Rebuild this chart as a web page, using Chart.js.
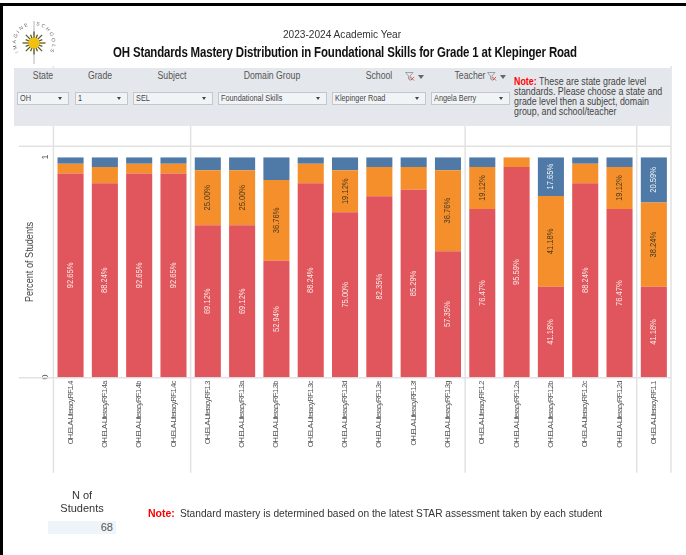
<!DOCTYPE html>
<html><head><meta charset="utf-8">
<style>
html,body{margin:0;padding:0;background:#fff;width:686px;height:555px;overflow:hidden;font-family:"Liberation Sans",Arial,sans-serif;color:#333}
.a{position:absolute;white-space:nowrap}
#cv{position:absolute;left:0;top:0}
.c{transform:translateX(-50%)}
.panel{left:14px;top:68px;width:657px;height:58px;background:#e4e8ec}
.fl{top:70px;font-size:10px;line-height:12px;color:#555;transform:translateX(-50%) scaleX(.87)}
.dd{top:92px;height:11px;line-height:11px;background:#f1f4f7;border:1px solid #c4c8cc;font-size:8.5px;color:#444;padding-left:2px;box-sizing:content-box}
.dd span{display:inline-block;transform:scaleX(.86);transform-origin:left center}
.dd i{position:absolute;right:6px;top:4px;width:0;height:0;border-left:2.5px solid transparent;border-right:2.5px solid transparent;border-top:3px solid #444}
.tri{top:75px;width:0;height:0;border-left:3px solid transparent;border-right:3px solid transparent;border-top:4px solid #666}
</style></head><body>
<canvas id="cv" width="686" height="555"></canvas>
<div class="a" style="left:0;top:3px;width:686px;height:3px;background:#000"></div>
<div class="a" style="left:0;top:3px;width:3px;height:552px;background:#000"></div>

<svg class="a" id="logo" style="left:12px;top:18px" width="46" height="48" viewBox="0 0 46 48">
<defs><path id="arcL" d="M6.4 34 A18 18 0 0 1 20 7.1"/><path id="arcR" d="M24 7.1 A18 18 0 0 1 37.6 34"/></defs>
<line x1="22" y1="3" x2="22" y2="46" stroke="#b5b5b5" stroke-width="1"/>
<g id="rays" stroke="#5e5a20" stroke-width="1.3"></g>
<circle cx="22" cy="25" r="5.6" fill="#f0c20f"/>
<text font-family="Liberation Sans" font-size="5" fill="#666" letter-spacing="1.7"><textPath href="#arcL">IMAGINE</textPath></text>
<text font-family="Liberation Sans" font-size="5" fill="#666" letter-spacing="1.7"><textPath href="#arcR">SCHOOLS</textPath></text>
</svg>

<div class="a" style="left:342px;top:28px;font-size:11px;line-height:13px;color:#333;transform:translateX(-50%) scaleX(.92)">2023-2024 Academic Year</div>
<div class="a" style="left:345px;top:44px;font-size:14.5px;line-height:17px;font-weight:bold;color:#111;letter-spacing:-.2px;transform:translateX(-50%) scaleX(.79)">OH Standards Mastery Distribution in Foundational Skills for Grade 1 at Klepinger Road</div>

<div class="a panel"></div>
<div class="a fl" style="left:42.5px">State</div>
<div class="a fl" style="left:100px">Grade</div>
<div class="a fl" style="left:172px">Subject</div>
<div class="a fl" style="left:272px">Domain Group</div>
<div class="a fl" style="left:379px">School</div>
<div class="a fl" style="left:470px">Teacher</div>
<svg class="a" style="left:405px;top:72px" width="10" height="9" viewBox="0 0 10 9"><path d="M0.5 .5H8L5 4V8L3.5 7V4Z" fill="none" stroke="#8a8f94" stroke-width=".8"/><path d="M5.5 5L9 8.5M9 5L5.5 8.5" stroke="#d9534f" stroke-width="1"/></svg>
<div class="a tri" style="left:418px"></div>
<svg class="a" style="left:487px;top:72px" width="10" height="9" viewBox="0 0 10 9"><path d="M0.5 .5H8L5 4V8L3.5 7V4Z" fill="none" stroke="#8a8f94" stroke-width=".8"/><path d="M5.5 5L9 8.5M9 5L5.5 8.5" stroke="#d9534f" stroke-width="1"/></svg>
<div class="a tri" style="left:500px"></div>

<div class="a dd" style="left:17px;width:48px"><span>OH</span><i></i></div>
<div class="a dd" style="left:75px;width:49px"><span>1</span><i></i></div>
<div class="a dd" style="left:133px;width:76px"><span>SEL</span><i></i></div>
<div class="a dd" style="left:218px;width:105px"><span>Foundational Skills</span><i></i></div>
<div class="a dd" style="left:332px;width:90px"><span>Klepinger Road</span><i></i></div>
<div class="a dd" style="left:431px;width:75px"><span>Angela Berry</span><i></i></div>

<div class="a" style="left:514px;top:77px;font-size:10px;line-height:10.1px;color:#444;transform:scaleX(.886);transform-origin:left top"><span style="color:#f00;font-weight:bold">Note:</span> These are state grade level<br>standards. Please choose a state and<br>grade level then a subject, domain<br>group, and school/teacher</div>

<div class="a" style="left:29px;top:262px;font-size:10.5px;line-height:12px;color:#444;transform:translate(-50%,-50%) rotate(-90deg) scaleX(.87)">Percent of Students</div>

<div class="a c" style="left:82px;top:489px;font-size:11px;line-height:12.5px;text-align:center;color:#333">N of<br>Students</div>
<div class="a" style="left:48px;top:521px;width:68px;height:13px;background:#eef4f9;font-size:11px;line-height:13px;text-align:right;color:#555"><span style="padding-right:3px">68</span></div>

<div class="a" style="left:148px;top:507px;font-size:10.5px;line-height:13px;color:#f00;font-weight:bold">Note:</div>
<div class="a" style="left:180px;top:507px;font-size:10.5px;line-height:13px;color:#333;transform:scaleX(.97);transform-origin:left top">Standard mastery is determined based on the latest STAR assessment taken by each student</div>

<script src="https://cdn.jsdelivr.net/npm/chart.js@4"></script>
<script>
const categories = ["OH.ELA-Literacy.RF.1.4","OH.ELA-Literacy.RF.1.4a","OH.ELA-Literacy.RF.1.4b","OH.ELA-Literacy.RF.1.4c","OH.ELA-Literacy.RF.1.3","OH.ELA-Literacy.RF.1.3a","OH.ELA-Literacy.RF.1.3b","OH.ELA-Literacy.RF.1.3c","OH.ELA-Literacy.RF.1.3d","OH.ELA-Literacy.RF.1.3e","OH.ELA-Literacy.RF.1.3f","OH.ELA-Literacy.RF.1.3g","OH.ELA-Literacy.RF.1.2","OH.ELA-Literacy.RF.1.2a","OH.ELA-Literacy.RF.1.2b","OH.ELA-Literacy.RF.1.2c","OH.ELA-Literacy.RF.1.2d","OH.ELA-Literacy.RF.1.1"];
const redValues    = [92.65,88.24,92.65,92.65,69.12,69.12,52.94,88.24,75.00,82.35,85.29,57.35,76.47,95.59,41.18,88.24,76.47,41.18];
const orangeValues = [4.41,7.35,4.41,4.41,25.00,25.00,36.76,8.82,19.12,13.24,10.29,36.76,19.12,4.41,41.18,8.82,19.12,38.24];
const blueValues   = [2.94,4.41,2.94,2.94,5.88,5.88,10.29,2.94,5.88,4.41,4.41,5.88,4.41,0,17.65,2.94,4.41,20.59];
const yTickLabels = {0:"0",100:"1"};
const groupStarts = [0,4,12,17];
const minLabelled = 15;

// logo rays
(function(){const g=document.getElementById('rays');let s='';
for(let i=0;i<16;i++){const t=i*Math.PI/8,r=i%2?9:11.5;s+=`<line x1="22" y1="25" x2="${22+r*Math.cos(t)}" y2="${25+r*Math.sin(t)}"/>`;}
g.innerHTML=s;})();

const SANS = '"Liberation Sans",Arial,sans-serif';
const sepPlugin = {
  id:'sep',
  beforeDraw(c){ c.ctx.letterSpacing='-0.75px'; },
  beforeDatasetsDraw(c){
    const x=c.scales.x, y=c.scales.y, ctx=c.ctx;
    const step=x.getPixelForValue(1)-x.getPixelForValue(0);
    ctx.save();ctx.strokeStyle='#e2e2e2';ctx.lineWidth=1.5;
    const xs=groupStarts.map(i=>x.getPixelForValue(i)-step/2).concat(x.right);
    xs.forEach((p,i)=>{const top=(i===0||i===xs.length-1)?66:126;ctx.beginPath();ctx.moveTo(p,top);ctx.lineTo(p,y.bottom+95.5);ctx.stroke();});
    ctx.beginPath();ctx.moveTo(19,y.top-11);ctx.lineTo(x.right,y.top-11);ctx.stroke();
    ctx.beginPath();ctx.moveTo(19,y.bottom+.5);ctx.lineTo(x.right,y.bottom+.5);ctx.stroke();
    ctx.restore();
  }
};
const labelPlugin = {
  id:'seglabels',
  afterDatasetsDraw(c){
    const ctx=c.ctx;
    c.data.datasets.forEach((ds,di)=>{
      c.getDatasetMeta(di).data.forEach((el,i)=>{
        const v=ds.data[i];
        if(v<minLabelled) return;
        ctx.save();
        ctx.letterSpacing='0px';
        ctx.translate(el.x,(el.y+el.base)/2);
        ctx.rotate(-Math.PI/2);
        ctx.scale(.84,1);
        ctx.font='9px '+SANS;ctx.textAlign='center';ctx.textBaseline='middle';
        ctx.fillStyle=ds.labelColor;
        ctx.fillText(v.toFixed(2)+'%',0,0);
        ctx.restore();
      });
    });
  }
};
new Chart(document.getElementById('cv'),{
  type:'bar',
  data:{labels:categories,datasets:[
    {label:'Red',data:redValues,backgroundColor:'#e1565c',labelColor:'#fbe9e9'},
    {label:'Orange',data:orangeValues,backgroundColor:'#f48f2b',labelColor:'#4a3a20'},
    {label:'Blue',data:blueValues,backgroundColor:'#4f7aa8',labelColor:'#f2f5f8'}
  ]},
  plugins:[sepPlugin,labelPlugin],
  options:{
    responsive:false,animation:false,
    devicePixelRatio:1,
    layout:{padding:{top:157.3,left:0,right:15,bottom:0}},
    datasets:{bar:{barPercentage:.76,categoryPercentage:1,borderWidth:0}},
    plugins:{legend:{display:false},tooltip:{enabled:false},title:{display:false}},
    scales:{
      x:{stacked:true,offset:true,
        grid:{display:false,drawTicks:false},border:{display:false},
        afterFit(s){s.height=177.7;},
        ticks:{autoSkip:false,minRotation:90,maxRotation:90,padding:4,color:'#555',font:{family:SANS,size:7.5}}},
      y:{stacked:true,min:0,max:100,
        grid:{display:false,drawTicks:false},border:{display:false},
        afterFit(s){s.width=53.4;},
        afterBuildTicks(s){s.ticks=[{value:0},{value:100}];},
        ticks:{minRotation:90,maxRotation:90,padding:8,labelOffset:-2,color:'#555',font:{family:SANS,size:9},callback:v=>yTickLabels[v]}}
    }
  }
});
</script>
</body></html>
